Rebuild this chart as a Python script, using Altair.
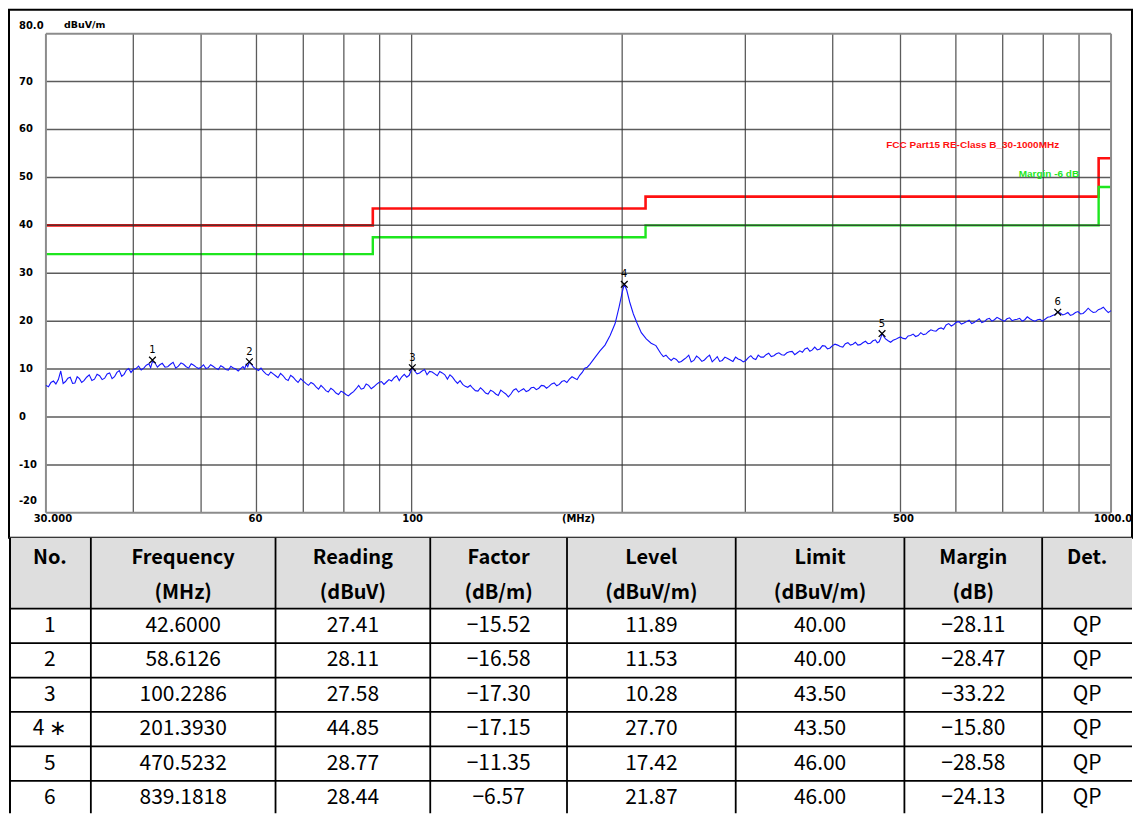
import math
import altair as alt
import pandas as pd

# ---------------- data ----------------
trace_freq = [
    30.0, 30.5, 31.0, 31.5, 32.0, 32.5, 33.0, 33.5, 34.0, 34.6,
    35.2, 35.8, 36.4, 37.0, 37.6, 38.2, 38.8, 39.4, 40.0, 40.7,
    41.4, 42.1, 42.6, 43.3, 44.0, 44.8, 45.6, 46.4, 47.2, 48.0,
    48.8, 49.6, 50.4, 51.2, 52.0, 52.9, 53.8, 54.7, 55.6, 56.5,
    57.4, 58.0, 58.6, 59.4, 60.4, 61.4, 62.4, 63.4, 64.4, 65.5,
    66.6, 67.7, 68.8, 70.0, 71.2, 72.4, 73.6, 74.8, 76.0, 77.3,
    78.6, 79.9, 81.2, 82.6, 84.0, 85.4, 86.8, 88.3, 89.8, 91.3,
    92.8, 94.4, 96.0, 97.6, 99.2, 100.2, 101.8, 103.5, 105.2, 107.0,
    108.8, 110.6, 112.5, 114.4, 116.3, 118.3, 120.3, 122.3, 124.4, 126.5,
    128.6, 130.8, 133.0, 135.2, 137.5, 139.8, 142.2, 144.6, 147.0, 149.5,
    152.0, 154.6, 157.2, 159.9, 162.6, 165.3, 168.1, 171.0, 173.9, 176.8,
    179.8, 182.8, 185.9, 189.0, 192.2, 195.4, 198.0, 200.0, 201.4, 203.0,
    205.0, 207.5, 210.0, 213.0, 216.5, 220.0, 223.5, 227.0, 231.0, 235.0,
    239.0, 243.0, 247.0, 251.0, 255.5, 260.0, 264.5, 269.0, 273.5, 278.0,
    283.0, 288.0, 293.0, 298.0, 303.0, 308.0, 313.0, 318.5, 324.0, 329.5,
    335.0, 341.0, 347.0, 353.0, 359.0, 365.0, 371.0, 377.0, 383.5, 390.0,
    396.5, 403.0, 410.0, 417.0, 424.0, 431.0, 438.0, 445.5, 453.0, 460.5,
    466.0, 470.5, 476.0, 484.0, 492.0, 500.0, 508.5, 517.0, 525.5, 534.5,
    543.5, 552.5, 562.0, 571.5, 581.0, 591.0, 601.0, 611.0, 621.5, 632.0,
    642.5, 653.5, 664.5, 675.5, 687.0, 698.5, 710.0, 722.0, 734.0, 746.5,
    759.0, 772.0, 785.0, 798.0, 811.5, 825.0, 839.2, 853.0, 867.5, 882.0,
    897.0, 912.0, 927.5, 943.0, 959.0, 975.0, 991.0, 1000.0,
]
trace_level = [
    6.6, 7.2, 6.9, 9.6, 7.4, 8.3, 7.1, 8.0, 7.6, 8.8,
    7.9, 8.6, 8.1, 9.2, 8.4, 9.7, 8.9, 10.1, 9.9, 10.6,
    10.2, 11.1, 11.6, 10.4, 11.2, 10.5, 11.4, 10.6, 11.0, 10.2,
    10.8, 10.1, 10.9, 10.3, 10.6, 9.9, 10.4, 9.8, 10.2, 9.6,
    10.5, 11.0, 11.4, 10.4, 9.7, 9.5, 8.7, 9.0, 8.2, 8.6,
    7.6, 8.3, 7.2, 7.5, 6.6, 6.9, 5.8, 6.1, 5.2, 5.6,
    4.7, 5.1, 4.4, 5.3, 6.6, 6.0, 6.6, 6.3, 7.2, 6.8,
    7.8, 8.2, 7.6, 8.9, 8.7, 10.3, 9.0, 9.6, 8.8, 9.4,
    8.6, 9.2, 7.9, 8.3, 7.0, 6.8, 6.2, 6.0, 5.4, 5.6,
    4.8, 5.3, 4.5, 5.2, 4.2, 5.6, 5.2, 5.9, 5.5, 6.2,
    6.0, 6.5, 6.4, 7.1, 6.8, 7.6, 7.9, 8.1, 8.7, 10.2,
    11.0, 12.4, 13.8, 15.0, 17.0, 19.5, 23.0, 26.0, 27.7, 26.5,
    24.0, 21.5, 19.6, 17.6, 16.3, 15.4, 14.9, 13.3, 12.9, 11.8,
    12.0, 11.6, 12.4, 11.5, 12.7, 11.6, 12.5, 11.5, 12.6, 11.8,
    12.2, 11.6, 12.1, 11.5, 12.4, 12.2, 12.9, 12.5, 13.3, 12.8,
    13.4, 12.9, 13.6, 13.0, 13.8, 14.2, 13.7, 14.6, 14.2, 14.8,
    14.4, 15.2, 14.7, 15.3, 15.0, 15.6, 15.1, 15.8, 15.4, 16.1,
    15.7, 17.4, 16.3, 15.6, 16.2, 16.7, 16.3, 17.0, 16.8, 17.6,
    17.3, 18.2, 17.9, 18.6, 19.2, 19.0, 19.8, 19.4, 19.9, 19.5,
    20.1, 19.7, 20.4, 20.0, 20.8, 20.2, 20.5, 20.1, 20.4, 20.0,
    20.9, 20.2, 20.3, 20.0, 20.8, 21.2, 21.9, 21.3, 21.8, 21.4,
    22.0, 21.6, 22.7, 21.8, 22.4, 22.9, 21.8, 22.2,
]
# in-between samples of the noisy trace
trace_freq_b = [
    30.25, 30.75, 31.25, 31.75, 32.25, 32.75, 33.25, 33.75, 34.3, 34.9,
    35.5, 36.1, 36.7, 37.3, 37.9, 38.5, 39.1, 39.7, 40.35, 41.05,
    41.75, 42.35, 42.95, 43.65, 44.4, 45.2, 46.0, 46.8, 47.6, 48.4,
    49.2, 50.0, 50.8, 51.6, 52.45, 53.35, 54.25, 55.15, 56.05, 56.95,
    57.7, 58.3, 59.0, 59.9, 60.9, 61.9, 62.9, 63.9, 64.95, 66.05,
    67.15, 68.25, 69.4, 70.6, 71.8, 73.0, 74.2, 75.4, 76.65, 77.95,
    79.25, 80.55, 81.9, 83.3, 84.7, 86.1, 87.55, 89.05, 90.55, 92.05,
    93.6, 95.2, 96.8, 98.4, 99.7, 101.0, 102.65, 104.35, 106.1, 107.9,
    109.7, 111.55, 113.45, 115.35, 117.3, 119.3, 121.3, 123.35, 125.45, 127.55,
    129.7, 131.9, 134.1, 136.35, 138.65, 141.0, 143.4, 145.8, 148.25, 150.75,
    153.3, 155.9, 158.55, 161.25, 163.95, 166.7, 169.55, 172.45, 175.35, 178.3,
    229.0, 233.0, 237.0, 241.0, 245.0, 249.0, 253.2, 257.7, 262.2, 266.7,
    271.2, 275.7, 280.5, 285.5, 290.5, 295.5, 300.5, 305.5, 310.5, 315.7,
    321.2, 326.7, 332.2, 338.0, 344.0, 350.0, 356.0, 362.0, 368.0, 374.0,
    380.2, 386.7, 393.2, 399.7, 406.5, 413.5, 420.5, 427.5, 434.5, 441.7,
    449.2, 456.7, 463.2, 468.3, 473.2, 480.0, 488.0, 496.0, 504.2, 512.7,
    521.2, 530.0, 539.0, 548.0, 557.2, 566.7, 576.2, 586.0, 596.0, 606.0,
    616.2, 626.7, 637.2, 648.0, 659.0, 670.0, 681.2, 692.7, 704.2, 716.0,
    728.0, 740.2, 752.7, 765.5, 778.5, 791.5, 804.7, 818.2, 832.0, 846.0,
    860.2, 874.7, 889.5, 904.5, 919.7, 935.2, 951.0, 967.0, 983.0, 995.5,
]
trace_level_b = [
    6.3, 7.5, 7.8, 7.0, 8.1, 7.0, 8.4, 7.2, 8.3, 7.6,
    8.9, 7.8, 9.0, 8.0, 9.3, 8.5, 9.8, 9.3, 10.1, 9.8,
    10.8, 10.3, 11.3, 10.9, 10.4, 11.0, 10.2, 11.3, 10.5, 11.1,
    10.4, 10.4, 10.1, 10.9, 10.2, 10.7, 9.9, 10.6, 10.0, 10.1,
    10.0, 10.5, 11.0, 10.0, 10.2, 9.0, 9.4, 8.6, 9.1, 7.9,
    8.7, 7.7, 8.0, 7.0, 7.2, 6.3, 6.6, 5.5, 6.0, 5.0,
    5.4, 4.7, 4.9, 5.9, 5.8, 6.9, 5.9, 6.8, 7.4, 7.3,
    7.5, 8.6, 8.4, 8.3, 9.5, 9.6, 9.2, 9.9, 9.5, 9.0,
    9.5, 8.8, 8.8, 7.6, 7.6, 6.4, 6.6, 5.5, 6.1, 5.0,
    5.6, 4.8, 5.6, 4.8, 4.8, 5.9, 5.6, 5.3, 6.1, 5.7,
    6.6, 6.0, 6.9, 6.5, 7.4, 7.2, 8.4, 7.8, 9.3, 10.4,
    12.6, 12.3, 12.3, 11.4, 12.0, 12.9, 11.8, 12.3, 11.9, 12.9,
    12.0, 11.6, 12.5, 11.9, 12.5, 11.9, 11.8, 12.8, 12.0, 12.5,
    13.0, 12.6, 13.2, 13.0, 13.4, 13.7, 13.4, 13.5, 14.4, 14.0,
    14.0, 14.9, 14.2, 14.9, 15.0, 14.6, 15.5, 15.2, 15.0, 15.5,
    15.3, 15.9, 15.5, 16.4, 16.8, 15.9, 16.0, 16.5, 16.4, 16.9,
    17.3, 17.0, 17.2, 17.8, 18.0, 18.4, 18.3, 19.5, 19.3, 19.9,
    19.6, 20.2, 19.7, 20.5, 19.9, 20.6, 20.3, 20.5, 20.0, 20.7,
    20.3, 20.6, 20.3, 20.5, 20.0, 20.4, 20.4, 20.9, 21.4, 21.7,
    21.5, 21.2, 21.8, 21.5, 22.1, 22.2, 21.9, 22.6, 22.3, 22.0,
]
assert len(trace_freq) == len(trace_level)
assert len(trace_freq_b) == len(trace_level_b)

limit_freq = [30, 88, 216, 960, 1000]
limit_level = [40.0, 43.5, 46.0, 54.0, 54.0]
margin_level = [34.0, 37.5, 40.0, 48.0, 48.0]
limit_name = "FCC Part15 RE-Class B_30-1000MHz"
margin_name = "Margin -6 dB"

peak_no = ["1", "2", "3", "4 *", "5", "6"]
peak_freq = [42.6000, 58.6126, 100.2286, 201.3930, 470.5232, 839.1818]
peak_reading = [27.41, 28.11, 27.58, 44.85, 28.77, 28.44]
peak_factor = [-15.52, -16.58, -17.30, -17.15, -11.35, -6.57]
peak_level = [11.89, 11.53, 10.28, 27.70, 17.42, 21.87]
peak_limit = [40.00, 40.00, 43.50, 43.50, 46.00, 46.00]
peak_margin = [-28.11, -28.47, -33.22, -15.80, -28.58, -24.13]
peak_det = ["QP", "QP", "QP", "QP", "QP", "QP"]

x_grid = [30, 40, 50, 60, 70, 80, 90, 100, 200, 300, 400, 500, 600, 700, 800, 900, 1000]
y_grid = [-20, -10, 0, 10, 20, 30, 40, 50, 60, 70, 80]
y_tick_values = [70, 60, 50, 40, 30, 20, 10, 0, -10]
y_tick_labels = ["70", "60", "50", "40", "30", "20", "10", "0", "-10"]
x_tick_labels = {30: "30.000", 60: "60", 100: "100", 500: "500", 1000: "1000.0"}
x_unit = "(MHz)"
y_unit = "dBuV/m"

header_top = ["No.", "Frequency", "Reading", "Factor", "Level", "Limit", "Margin", "Det."]
header_bottom = ["", "(MHz)", "(dBuV)", "(dB/m)", "(dBuV/m)", "(dBuV/m)", "(dB)", ""]

# ---------------- layout / style ----------------
W = 1125
PLOT_H = 529
TABLE_H = 276
PLOT_X = [37, 1104]
PLOT_Y = [504, 24]
COL_EDGES = [0, 82, 267, 422, 559, 728, 897, 1035, 1125]
ROW_EDGES = [0, 71, 105.5, 140, 174.5, 209, 243.5, 278]
HEADER_LINES = [20, 55]
X_LABEL_NUDGE = {30: 7, 60: -1, 100: 1, 500: 3, 1000: 2}

AXIS_FONT = "DejaVu Sans"
TABLE_FONT = "Noto Sans CJK JP"
GRID = "#333333"
BORDER = "#8c8c8c"

xs = alt.Scale(type="log", domain=[30, 1000], range=PLOT_X, nice=False)
ys = alt.Scale(domain=[-20, 80], range=PLOT_Y, nice=False, zero=False)


def fx(field="f"):
    return alt.X(f"{field}:Q", scale=xs, axis=None)


def fy(field):
    return alt.Y(f"{field}:Q", scale=ys, axis=None)


def dx_(v):
    return alt.XDatum(v, type="quantitative", scale=xs, axis=None)


def dy_(v):
    return alt.YDatum(v, type="quantitative", scale=ys, axis=None)


lim_df = pd.DataFrame({"f": limit_freq, "limit": limit_level, "margin": margin_level})
trace_df = pd.concat([
    pd.DataFrame({"f": trace_freq, "level": trace_level}),
    pd.DataFrame({"f": trace_freq_b, "level": trace_level_b}),
]).sort_values("f").reset_index(drop=True)
peak_df = pd.DataFrame({"f": peak_freq, "level": peak_level,
                        "num": [n.split()[0] for n in peak_no]})

red_line = alt.Chart(lim_df).mark_line(color="#ff1010", strokeWidth=2.6, interpolate="step-after").encode(
    x=fx(), y=fy("limit"))
green_line = alt.Chart(lim_df).mark_line(color="#1ee61e", strokeWidth=2.4, interpolate="step-after").encode(
    x=fx(), y=fy("margin"))

vgrid = alt.Chart(pd.DataFrame({"f": x_grid[1:-1]})).mark_rule(
    color=GRID, strokeWidth=1.3, opacity=0.8).encode(x=fx(), y=dy_(-20), y2=alt.Y2Datum(80))
hgrid = alt.Chart(pd.DataFrame({"v": y_grid[1:-1]})).mark_rule(
    color=GRID, strokeWidth=1.5, opacity=0.8).encode(y=fy("v"), x=dx_(30), x2=alt.X2Datum(1000))
vborder = alt.Chart(pd.DataFrame({"f": [x_grid[0], x_grid[-1]]})).mark_rule(color=BORDER, strokeWidth=2).encode(
    x=fx(), y=dy_(-20), y2=alt.Y2Datum(80))
hborder = alt.Chart(pd.DataFrame({"v": [y_grid[0], y_grid[-1]]})).mark_rule(color=BORDER, strokeWidth=2).encode(
    y=fy("v"), x=dx_(30), x2=alt.X2Datum(1000))

trace = alt.Chart(trace_df).mark_line(color="#1515ff", strokeWidth=1.1).encode(x=fx(), y=fy("level"))

markers = alt.Chart(peak_df).mark_point(
    shape="M-1,-1L1,1M-1,1L1,-1", size=45, filled=False, stroke="black", strokeWidth=1.3, opacity=1
).encode(x=fx(), y=fy("level"))
marker_nums = alt.Chart(peak_df).mark_text(font=AXIS_FONT, fontSize=10, color="black", dy=-10).encode(
    x=fx(), y=fy("level"), text="num:N")

lim_label = alt.Chart(pd.DataFrame({"t": [limit_name]})).mark_text(
    font="Liberation Sans", fontSize=10, fontWeight="bold", color="#ff1010", align="right", baseline="middle",
    dx=-52, dy=-13
).encode(x=dx_(limit_freq[-1]), y=dy_(limit_level[-1]), text="t:N")
mar_label = alt.Chart(pd.DataFrame({"t": [margin_name]})).mark_text(
    font="Liberation Sans", fontSize=10, fontWeight="bold", color="#1ee61e", align="right", baseline="middle",
    dx=-32, dy=-13
).encode(x=dx_(limit_freq[-1]), y=dy_(margin_level[-1]), text="t:N")

ytick = alt.Chart(pd.DataFrame({"v": y_tick_values, "t": y_tick_labels})).mark_text(
    font=AXIS_FONT, fontSize=10, fontWeight="bold", align="left", baseline="middle", dx=-27
).encode(x=dx_(30), y=fy("v"), text="t:N")
ytick_top = alt.Chart(pd.DataFrame({"t": ["80.0"]})).mark_text(
    font=AXIS_FONT, fontSize=10, fontWeight="bold", align="left", baseline="middle", dx=-27, dy=-8
).encode(x=dx_(30), y=dy_(80), text="t:N")
ytick_bot = alt.Chart(pd.DataFrame({"t": ["-20"]})).mark_text(
    font=AXIS_FONT, fontSize=10, fontWeight="bold", align="left", baseline="middle", dx=-27, dy=-12
).encode(x=dx_(30), y=dy_(-20), text="t:N")
yunit = alt.Chart(pd.DataFrame({"t": [y_unit]})).mark_text(
    font=AXIS_FONT, fontSize=9.5, fontWeight="bold", align="left", baseline="middle", dx=18, dy=-9
).encode(x=dx_(30), y=dy_(80), text="t:N")

xtick_layers = []
for v, t in x_tick_labels.items():
    xtick_layers.append(
        alt.Chart(pd.DataFrame({"t": [t]})).mark_text(
            font=AXIS_FONT, fontSize=10, fontWeight="bold", align="center", baseline="middle",
            dx=X_LABEL_NUDGE[v], dy=6
        ).encode(x=dx_(v), y=dy_(-20), text="t:N")
    )
xunit = alt.Chart(pd.DataFrame({"t": [x_unit]})).mark_text(
    font=AXIS_FONT, fontSize=10, fontWeight="bold", align="center", baseline="middle", dy=6
).encode(x=dx_(math.sqrt(x_grid[0] * x_grid[-1])), y=dy_(-20), text="t:N")

plot = alt.layer(
    red_line, green_line, hgrid, vgrid, hborder, vborder, trace, markers, marker_nums,
    lim_label, mar_label, ytick, ytick_top, ytick_bot, yunit, *xtick_layers, xunit
).properties(width=W, height=PLOT_H, view=alt.ViewBackground(stroke="black", strokeWidth=2))

# ---------------- table ----------------
tx = alt.Scale(domain=[0, W], range=[0, W], nice=False, zero=False)
ty = alt.Scale(domain=[0, TABLE_H], range=[0, TABLE_H], nice=False, zero=False)


def minus(s):
    return s.replace("-", "\u2212")


columns = [
    [n.replace("*", "\u2217") for n in peak_no],
    [f"{v:.4f}" for v in peak_freq],
    [f"{v:.2f}" for v in peak_reading],
    [minus(f"{v:.2f}") for v in peak_factor],
    [f"{v:.2f}" for v in peak_level],
    [f"{v:.2f}" for v in peak_limit],
    [minus(f"{v:.2f}") for v in peak_margin],
    peak_det,
]
col_centers = [(COL_EDGES[i] + COL_EDGES[i + 1]) / 2 for i in range(len(COL_EDGES) - 1)]
row_centers = [(ROW_EDGES[i] + ROW_EDGES[i + 1]) / 2 for i in range(1, len(ROW_EDGES) - 1)]

cell_rows = []
for c, vals in enumerate(columns):
    for r, v in enumerate(vals):
        cell_rows.append({"x": col_centers[c], "y": row_centers[r], "t": v})
cells_df = pd.DataFrame(cell_rows)

head_rows = []
for c in range(len(header_top)):
    head_rows.append({"x": col_centers[c], "y": HEADER_LINES[0], "t": header_top[c]})
    if header_bottom[c]:
        head_rows.append({"x": col_centers[c], "y": HEADER_LINES[1], "t": header_bottom[c]})
head_df = pd.DataFrame(head_rows)

TX = lambda f: alt.X(f"{f}:Q", scale=tx, axis=None)
TY = lambda f: alt.Y(f"{f}:Q", scale=ty, axis=None)

header_bg = alt.Chart(pd.DataFrame({"x": [0], "x2": [W], "y": [ROW_EDGES[0]], "y2": [ROW_EDGES[1]]})).mark_rect(
    color="#dedede").encode(x=TX("x"), x2="x2:Q", y=TY("y"), y2="y2:Q")

hlines = alt.Chart(pd.DataFrame({"y": [e for e in ROW_EDGES[1:] if e < TABLE_H], "x": 0, "x2": W})).mark_rule(
    color="black", strokeWidth=1.8).encode(y=TY("y"), x=TX("x"), x2="x2:Q")
vlines = alt.Chart(pd.DataFrame({"x": COL_EDGES[1:-1], "y": 0, "y2": TABLE_H})).mark_rule(
    color="black", strokeWidth=1.8).encode(x=TX("x"), y=TY("y"), y2="y2:Q")
left_edge = alt.Chart(pd.DataFrame({"x": [COL_EDGES[0] + 1], "y": [0], "y2": [TABLE_H]})).mark_rule(
    color="black", strokeWidth=2).encode(x=TX("x"), y=TY("y"), y2="y2:Q")

head_text = alt.Chart(head_df).mark_text(
    font=TABLE_FONT, fontSize=20, fontWeight="bold", color="black", align="center", baseline="middle"
).encode(x=TX("x"), y=TY("y"), text="t:N")
cell_text = alt.Chart(cells_df).mark_text(
    font=TABLE_FONT, fontSize=21, color="black", align="center", baseline="middle"
).encode(x=TX("x"), y=TY("y"), text="t:N")

table = alt.layer(header_bg, hlines, vlines, left_edge, head_text, cell_text).properties(
    width=W, height=TABLE_H, view=alt.ViewBackground(stroke=None))

chart = alt.vconcat(plot, table, spacing=0, bounds="flush").properties(
    padding=0, background="white"
)

chart.save("out.html", embed_options={"renderer": "svg", "actions": False})
